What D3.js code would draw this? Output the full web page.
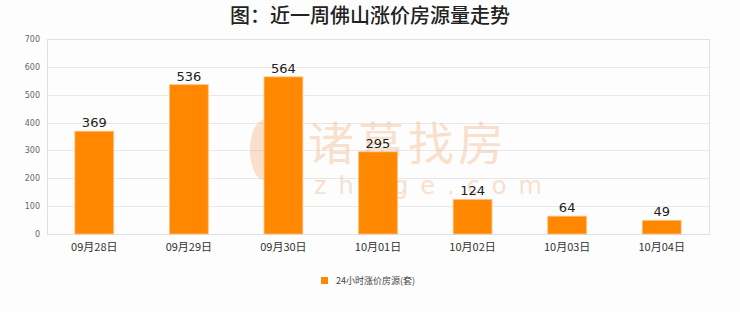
<!DOCTYPE html>
<html>
<head>
<meta charset="utf-8">
<script src="https://cdn.jsdelivr.net/npm/d3@7/dist/d3.min.js"></script>
<style>
	html, body { margin: 0; padding: 0; background: #fdfdfd; }
	svg { display: block; }
</style>
</head>
<body>
<div id="chart"></div>
<script>
var categories = ["09月28日", "09月29日", "09月30日", "10月01日", "10月02日", "10月03日", "10月04日"];
var values = [369, 536, 564, 295, 124, 64, 49];
var yTicks = [0, 100, 200, 300, 400, 500, 600, 700];
var title = "图：近一周佛山涨价房源量走势";
var seriesName = "24小时涨价房源(套)";

var width = 740, height = 312;
var margin = { top: 39, right: 31, bottom: 78, left: 47 };
var barColor = "#ff8800";

var svg = d3.select("#chart").append("svg")
	.attr("width", width)
	.attr("height", height);

svg.append("text")
	.attr("x", width / 2)
	.attr("y", 23)
	.attr("text-anchor", "middle")
	.attr("font-family", "Noto Sans CJK SC")
	.attr("font-size", 20)
	.attr("font-weight", 500)
	.attr("fill", "#222")
	.text(title);

var x = d3.scaleBand()
	.domain(categories)
	.range([margin.left, width - margin.right])
	.paddingInner(0.59)
	.paddingOuter(0.295);

var y = d3.scaleLinear()
	.domain([0, 700])
	.range([height - margin.bottom, margin.top]);

// grid
svg.append("g")
	.selectAll("line")
	.data(yTicks)
	.enter()
	.append("line")
	.attr("x1", margin.left)
	.attr("x2", width - margin.right)
	.attr("y1", function(d) { return Math.round(y(d)) + 0.5; })
	.attr("y2", function(d) { return Math.round(y(d)) + 0.5; })
	.attr("stroke", "#e8e8e8");

// frame
svg.append("rect")
	.attr("x", margin.left + 0.5)
	.attr("y", Math.round(y(700)) + 0.5)
	.attr("width", width - margin.right - margin.left)
	.attr("height", Math.round(y(0)) - Math.round(y(700)))
	.attr("fill", "none")
	.attr("stroke", "#e0e0e0");

// watermark
var wm = svg.append("g").attr("opacity", 0.3);
wm.append("text")
	.attr("x", 308)
	.attr("y", 160)
	.attr("font-family", "Noto Sans CJK SC")
	.attr("font-size", 46)
	.attr("fill", "#f0a060")
	.attr("letter-spacing", 4)
	.text("诸葛找房");
wm.append("text")
	.attr("x", 314)
	.attr("y", 194)
	.attr("font-family", "DejaVu Sans")
	.attr("font-size", 24)
	.attr("fill", "#f0a060")
	.attr("letter-spacing", 12)
	.text("zhuge.com");
wm.append("ellipse")
	.attr("cx", 264)
	.attr("cy", 150)
	.attr("rx", 14)
	.attr("ry", 30)
	.attr("fill", "#f0a060");

// y axis labels
svg.append("g")
	.selectAll("text")
	.data(yTicks)
	.enter()
	.append("text")
	.attr("x", margin.left - 7)
	.attr("y", function(d) { return y(d) + 3; })
	.attr("text-anchor", "end")
	.attr("font-family", "DejaVu Sans")
	.attr("font-size", 8)
	.attr("fill", "#666")
	.text(function(d) { return d; });

// bars
svg.append("g")
	.selectAll("rect")
	.data(values)
	.enter()
	.append("rect")
	.attr("x", function(d, i) { return x(categories[i]); })
	.attr("y", function(d) { return y(d); })
	.attr("width", x.bandwidth())
	.attr("height", function(d) { return y(0) - y(d); })
	.attr("fill", barColor)
	.attr("stroke", "#ffc080")
	.attr("stroke-width", 0.8);

// value labels
svg.append("g")
	.selectAll("text")
	.data(values)
	.enter()
	.append("text")
	.attr("x", function(d, i) { return x(categories[i]) + x.bandwidth() / 2; })
	.attr("y", function(d) { return y(d) - 4; })
	.attr("text-anchor", "middle")
	.attr("font-family", "DejaVu Sans")
	.attr("font-size", 13)
	.attr("fill", "#222")
	.text(function(d) { return d; });

// x labels
svg.append("g")
	.selectAll("text")
	.data(categories)
	.enter()
	.append("text")
	.attr("x", function(d) { return x(d) + x.bandwidth() / 2; })
	.attr("y", y(0) + 17)
	.attr("text-anchor", "middle")
	.attr("font-family", "Noto Sans CJK SC")
	.attr("font-size", 11)
	.attr("fill", "#333")
	.text(function(d) { return d; });

// legend
var legend = svg.append("g").attr("transform", "translate(321,277)");
legend.append("rect")
	.attr("width", 7)
	.attr("height", 7)
	.attr("fill", barColor);
legend.append("text")
	.attr("x", 15)
	.attr("y", 7)
	.attr("font-family", "Noto Sans CJK SC")
	.attr("font-size", 9)
	.attr("fill", "#444")
	.text(seriesName);
</script>
</body>
</html>
